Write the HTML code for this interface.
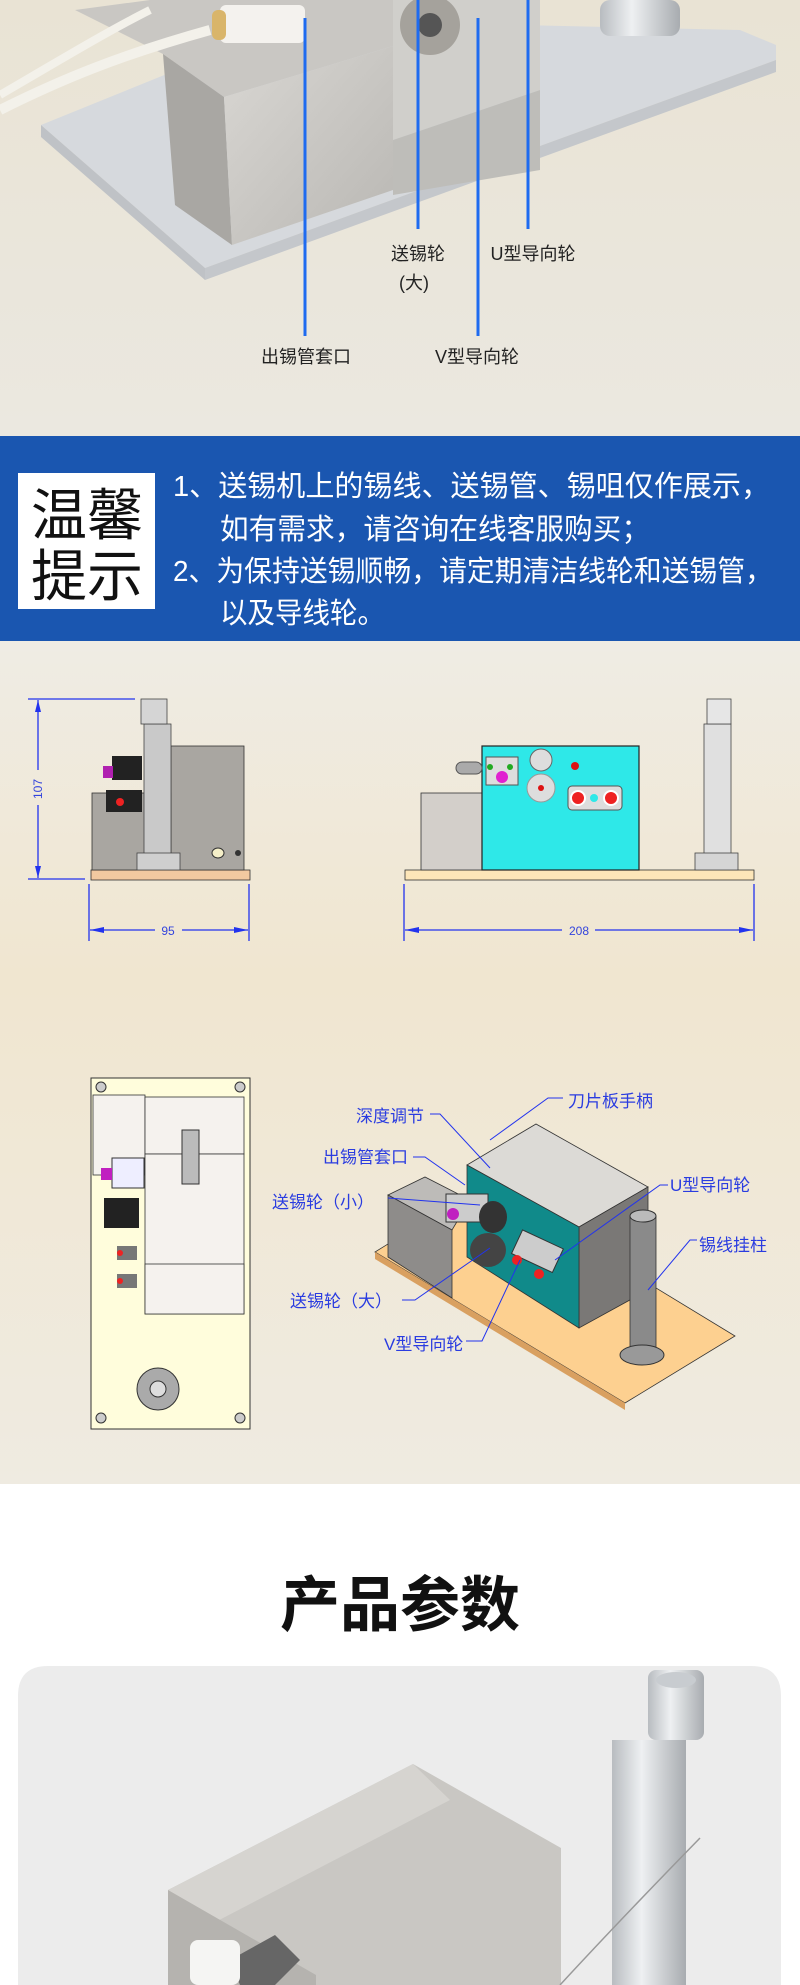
<!DOCTYPE html>
<html><head><meta charset="utf-8">
<style>
html,body{margin:0;padding:0;width:800px;height:1985px;overflow:hidden;background:#fff}
svg{display:block}
text{font-family:"Liberation Sans","Noto Sans CJK SC",sans-serif}
</style></head><body>
<svg width="800" height="1985" viewBox="0 0 800 1985" xmlns="http://www.w3.org/2000/svg">
<defs>
<linearGradient id="bg1" x1="0" y1="0" x2="0" y2="1"><stop offset="0" stop-color="#e9e3d4"/><stop offset="1" stop-color="#ebe8e0"/></linearGradient>
<linearGradient id="bg2" x1="0" y1="0" x2="0" y2="1"><stop offset="0" stop-color="#efece4"/><stop offset="0.4" stop-color="#f0e6d0"/><stop offset="1" stop-color="#efebe1"/></linearGradient>
<linearGradient id="steel" x1="0" y1="0" x2="1" y2="1"><stop offset="0" stop-color="#d9d7d3"/><stop offset="1" stop-color="#b9b7b3"/></linearGradient>
<linearGradient id="tube" x1="0" y1="0" x2="1" y2="0"><stop offset="0" stop-color="#b8bcc0"/><stop offset="0.4" stop-color="#eef0f2"/><stop offset="1" stop-color="#a8acb0"/></linearGradient>
</defs>
<rect x="0" y="0" width="800" height="436" fill="url(#bg1)"/>
<polygon points="41,125 205,268 776,60 776,45 740,30 300,20" fill="#d6d9dd"/>
<polygon points="41,125 205,268 205,280 41,137" fill="#bfc2c6"/>
<polygon points="205,268 776,60 776,72 205,280" fill="#c4c7cb"/>
<polygon points="150,0 393,0 393,46 224,97 163,54 75,10" fill="#c9c7c3"/>
<polygon points="163,54 224,97 232,245 175,205" fill="#a9a7a3"/>
<polygon points="224,97 393,46 393,190 232,245" fill="url(#steel)"/>
<polygon points="393,0 540,0 540,90 393,140" fill="#d0cfcb"/>
<polygon points="393,140 540,90 540,170 393,195" fill="#bebdb9"/>
<circle cx="430" cy="25" r="30" fill="#a5a29c"/><circle cx="430" cy="25" r="12" fill="#555"/>
<rect x="600" y="0" width="80" height="36" rx="10" fill="url(#tube)"/>
<path d="M0,110 C60,80 120,55 210,30" stroke="#f3f1ea" stroke-width="10" fill="none"/>
<path d="M0,95 C60,60 110,30 150,10" stroke="#f3f1ea" stroke-width="8" fill="none"/>
<rect x="220" y="5" width="85" height="38" rx="6" fill="#f4f2ee"/>
<rect x="212" y="10" width="14" height="30" rx="6" fill="#d9b56a"/>
<g stroke="#1e6bf0" stroke-width="3">
<line x1="305" y1="18" x2="305" y2="336"/><line x1="418" y1="0" x2="418" y2="229"/>
<line x1="478" y1="18" x2="478" y2="336"/><line x1="528" y1="0" x2="528" y2="229"/></g>
<g font-size="18" fill="#222" text-anchor="middle">
<text x="418" y="260">送锡轮</text><text x="414" y="289">(大)</text>
<text x="533" y="260">U型导向轮</text>
<text x="306" y="363">出锡管套口</text><text x="477" y="363">V型导向轮</text></g>
<rect x="0" y="436" width="800" height="205" fill="#1a56b0"/>
<rect x="18" y="473" width="137" height="136" fill="#fff"/>
<g font-size="56" fill="#111" text-anchor="middle"><text x="87" y="535">温馨</text><text x="87" y="596">提示</text></g>
<g font-size="29" fill="#fff">
<text x="173" y="496" textLength="597" lengthAdjust="spacingAndGlyphs">1、送锡机上的锡线、送锡管、锡咀仅作展示，</text>
<text x="220" y="539" textLength="430" lengthAdjust="spacingAndGlyphs">如有需求，请咨询在线客服购买；</text>
<text x="173" y="581" textLength="600" lengthAdjust="spacingAndGlyphs">2、为保持送锡顺畅，请定期清洁线轮和送锡管，</text>
<text x="220" y="623" textLength="165" lengthAdjust="spacingAndGlyphs">以及导线轮。</text></g>
<rect x="0" y="641" width="800" height="843" fill="url(#bg2)"/>
<g stroke="#2233ee" stroke-width="1.3" fill="none">
<line x1="28" y1="699" x2="135" y2="699"/><line x1="28" y1="879" x2="85" y2="879"/>
<line x1="38" y1="700" x2="38" y2="770"/><line x1="38" y1="805" x2="38" y2="878"/>
<line x1="89" y1="884" x2="89" y2="941"/><line x1="249" y1="884" x2="249" y2="941"/>
<line x1="90" y1="930" x2="155" y2="930"/><line x1="182" y1="930" x2="248" y2="930"/>
<line x1="404" y1="884" x2="404" y2="941"/><line x1="754" y1="884" x2="754" y2="941"/>
<line x1="405" y1="930" x2="562" y2="930"/><line x1="595" y1="930" x2="753" y2="930"/></g>
<g fill="#2233ee"><polygon points="38,700 35,712 41,712"/><polygon points="38,878 35,866 41,866"/>
<polygon points="90,930 104,927 104,933"/><polygon points="248,930 234,927 234,933"/>
<polygon points="405,930 419,927 419,933"/><polygon points="753,930 739,927 739,933"/></g>
<g font-size="12" fill="#3344dd" text-anchor="middle"><text x="168" y="935">95</text><text x="579" y="935">208</text>
<text transform="translate(42,789) rotate(-90)">107</text></g>
<rect x="91" y="870" width="159" height="10" fill="#f2c9a0" stroke="#333" stroke-width="0.8"/>
<rect x="171" y="746" width="73" height="124" fill="#a9a6a1" stroke="#333" stroke-width="0.8"/>
<rect x="92" y="793" width="79" height="77" fill="#a9a6a1" stroke="#333" stroke-width="0.8"/>
<rect x="144" y="724" width="27" height="130" fill="#c9c9c9" stroke="#444" stroke-width="0.8"/>
<rect x="141" y="699" width="26" height="25" fill="#d5d5d5" stroke="#444" stroke-width="0.8"/>
<rect x="137" y="853" width="43" height="17" fill="#cfcfcf" stroke="#444" stroke-width="0.8"/>
<rect x="112" y="756" width="30" height="24" fill="#222"/><rect x="103" y="766" width="10" height="12" fill="#b020b0"/>
<rect x="106" y="790" width="36" height="22" fill="#222"/><circle cx="120" cy="802" r="4" fill="#e22"/>
<ellipse cx="218" cy="853" rx="6" ry="5" fill="#f5efc8" stroke="#333"/><circle cx="238" cy="853" r="3" fill="#333"/>
<rect x="405" y="870" width="349" height="10" fill="#fde6b8" stroke="#333" stroke-width="0.8"/>
<rect x="421" y="793" width="92" height="77" fill="#d3cfca" stroke="#333" stroke-width="0.8"/>
<rect x="482" y="746" width="157" height="124" fill="#2ee8e8" stroke="#222" stroke-width="1.2"/>
<rect x="456" y="762" width="26" height="12" rx="6" fill="#aaa" stroke="#555"/>
<rect x="486" y="757" width="32" height="28" fill="#ddd" stroke="#555"/><circle cx="502" cy="777" r="6" fill="#e020d0"/>
<circle cx="490" cy="767" r="3" fill="#2a2"/><circle cx="510" cy="767" r="3" fill="#2a2"/>
<circle cx="541" cy="760" r="11" fill="#ddd" stroke="#666"/><circle cx="541" cy="788" r="14" fill="#ddd" stroke="#999"/><circle cx="541" cy="788" r="3" fill="#d11"/>
<circle cx="575" cy="766" r="4" fill="#d11"/>
<rect x="568" y="786" width="54" height="24" rx="4" fill="#ddd" stroke="#555"/><circle cx="578" cy="798" r="7" fill="#e22" stroke="#fff" stroke-width="2"/><circle cx="611" cy="798" r="7" fill="#e22" stroke="#fff" stroke-width="2"/><circle cx="594" cy="798" r="4" fill="#2ee8e8"/>
<rect x="704" y="724" width="27" height="130" fill="#e0e0e0" stroke="#444" stroke-width="0.8"/>
<rect x="707" y="699" width="24" height="25" fill="#e6e6e6" stroke="#444" stroke-width="0.8"/>
<rect x="695" y="853" width="43" height="17" fill="#d5d5d5" stroke="#444" stroke-width="0.8"/>
<rect x="91" y="1078" width="159" height="351" fill="#fffddc" stroke="#333" stroke-width="1"/>
<rect x="93" y="1095" width="52" height="80" fill="#f5f2ee" stroke="#333" stroke-width="0.8"/>
<rect x="145" y="1097" width="99" height="57" fill="#f5f2ee" stroke="#333" stroke-width="0.8"/>
<rect x="145" y="1154" width="99" height="160" fill="#f5f2ee" stroke="#333" stroke-width="0.8"/>
<rect x="145" y="1264" width="99" height="50" fill="#f5f2ee" stroke="#333" stroke-width="0.8"/>
<rect x="182" y="1130" width="17" height="54" fill="#bbb" stroke="#333"/>
<rect x="112" y="1158" width="32" height="30" fill="#eef" stroke="#333"/><rect x="101" y="1168" width="11" height="12" fill="#c020c0"/>
<rect x="104" y="1198" width="35" height="30" fill="#222"/>
<rect x="117" y="1246" width="20" height="14" fill="#777"/><circle cx="120" cy="1253" r="3" fill="#e22"/>
<rect x="117" y="1274" width="20" height="14" fill="#777"/><circle cx="120" cy="1281" r="3" fill="#e22"/>
<circle cx="158" cy="1389" r="21" fill="#aaa" stroke="#333"/><circle cx="158" cy="1389" r="8" fill="#ddd" stroke="#333"/>
<g fill="#ccc" stroke="#333"><circle cx="101" cy="1087" r="5"/><circle cx="240" cy="1087" r="5"/><circle cx="101" cy="1418" r="5"/><circle cx="240" cy="1418" r="5"/></g>
<polygon points="375,1252 625,1403 735,1336 485,1184" fill="#fdd090" stroke="#333" stroke-width="0.8"/>
<polygon points="375,1252 625,1403 625,1410 375,1259" fill="#d9a060"/>
<polygon points="467,1165 536,1124 648,1187 579,1227" fill="#dcdad6" stroke="#333" stroke-width="0.8"/>
<polygon points="579,1227 648,1187 648,1290 579,1328" fill="#7a7876" stroke="#333" stroke-width="0.8"/>
<polygon points="467,1165 579,1227 579,1328 467,1257" fill="#108a8a" stroke="#333" stroke-width="0.8"/>
<polygon points="388,1195 425,1177 470,1200 452,1230" fill="#bdbbb8" stroke="#333" stroke-width="0.8"/>
<polygon points="388,1195 452,1230 452,1298 388,1257" fill="#8e8c8a" stroke="#333" stroke-width="0.8"/>
<rect x="446" y="1194" width="42" height="28" fill="#ccc" stroke="#333"/><circle cx="453" cy="1214" r="6" fill="#c020c0"/>
<ellipse cx="493" cy="1217" rx="14" ry="16" fill="#333"/><ellipse cx="488" cy="1250" rx="18" ry="17" fill="#444"/>
<rect x="515" y="1238" width="45" height="26" fill="#ccc" stroke="#333" transform="rotate(25 537 1251)"/>
<circle cx="517" cy="1260" r="5" fill="#e22"/><circle cx="539" cy="1274" r="5" fill="#e22"/>
<rect x="630" y="1216" width="26" height="133" fill="#8a8a8a" stroke="#333" stroke-width="0.8"/>
<ellipse cx="643" cy="1216" rx="13" ry="6" fill="#bbb" stroke="#333"/>
<ellipse cx="642" cy="1355" rx="22" ry="10" fill="#999" stroke="#333"/>
<g stroke="#2233ee" stroke-width="1" fill="none">
<polyline points="563,1098 548,1098 490,1140"/><polyline points="430,1114 440,1114 490,1168"/>
<polyline points="413,1157 425,1157 465,1185"/><polyline points="668,1185 660,1185 555,1260"/>
<polyline points="388,1198 480,1205"/><polyline points="697,1240 690,1240 648,1290"/>
<polyline points="402,1300 415,1300 490,1248"/><polyline points="466,1341 482,1341 520,1260"/></g>
<g font-size="17" fill="#2a3ce0">
<text x="568" y="1107">刀片板手柄</text><text x="356" y="1122">深度调节</text>
<text x="323" y="1163">出锡管套口</text><text x="670" y="1191">U型导向轮</text>
<text x="272" y="1208">送锡轮（小）</text><text x="699" y="1251">锡线挂柱</text>
<text x="290" y="1307">送锡轮（大）</text><text x="384" y="1350">V型导向轮</text></g>
<rect x="0" y="1484" width="800" height="501" fill="#fff"/>
<text x="400" y="1626" font-size="60" font-weight="bold" fill="#111" text-anchor="middle">产品参数</text>
<path d="M18,1696 Q18,1666 48,1666 L751,1666 Q781,1666 781,1696 L781,1985 L18,1985 Z" fill="#ececec"/>
<rect x="612" y="1740" width="74" height="245" fill="url(#tube)"/>
<rect x="648" y="1670" width="56" height="70" rx="8" fill="url(#tube)"/>
<ellipse cx="676" cy="1680" rx="20" ry="8" fill="#c8ccd0"/>
<polygon points="168,1890 413,1764 561,1848 561,1985 316,1985" fill="#c9c7c3"/>
<polygon points="168,1890 413,1764 450,1800 200,1930" fill="#d6d4d0"/>
<polygon points="168,1890 316,1975 316,1985 168,1985" fill="#b5b3af"/>
<polygon points="230,1960 275,1935 300,1960 275,1985 240,1985" fill="#666"/>
<rect x="190" y="1940" width="50" height="45" rx="8" fill="#f5f5f3"/>
<path d="M560,1985 Q620,1920 700,1838" stroke="#999" stroke-width="1.5" fill="none"/>
</svg>
</body></html>
